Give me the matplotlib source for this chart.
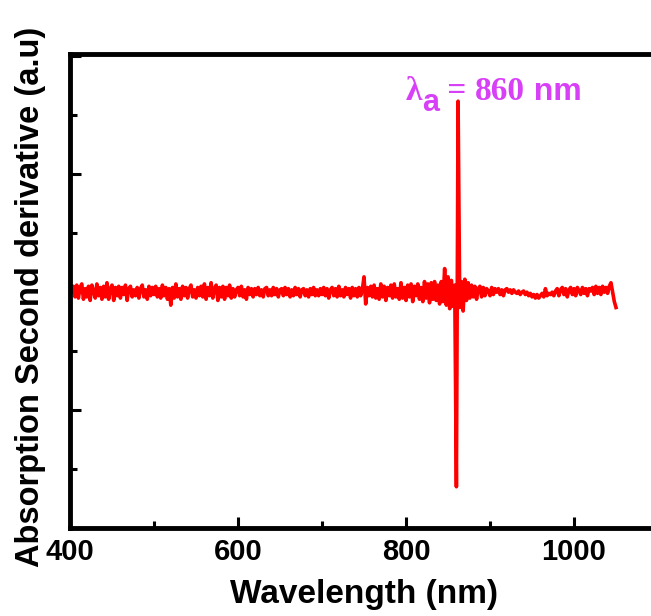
import numpy as np
import matplotlib
matplotlib.use("Agg")
import matplotlib.pyplot as plt
from matplotlib.ticker import MultipleLocator

# second-derivative spectrum, sampled every 2 nm from 400 to 1050 nm
wl_start, wl_stop, wl_step = 400, 1050, 2
deriv = [
    0.06, 0.03, 0.05, -0.04, 0.06, -0.05, 0.04, 0.07, -0.06, 0.03,     # 400
    -0.04, 0.05, -0.07, 0.06, 0.01, -0.05, 0.07, -0.03, 0.04, -0.06,   # 420
    0.05, -0.04, 0.08, -0.06, 0.03, 0.06, -0.07, 0.04, -0.03, 0.05,    # 440
    -0.05, 0.04, -0.02, 0.06, -0.07, 0.03, 0.05, -0.04, 0.02, -0.03,   # 460
    0.04, -0.05, 0.03, 0.06, -0.04, 0.02, -0.06, 0.05, -0.03, 0.04,    # 480
    -0.02, 0.05, -0.04, 0.03, -0.05, 0.06, -0.03, 0.04, -0.06, 0.03,   # 500
    -0.11, 0.04, -0.05, 0.07, -0.04, 0.03, -0.06, 0.05, -0.03, 0.04,   # 520
    -0.05, 0.03, 0.06, -0.04, 0.02, -0.05, 0.04, -0.03, 0.05, -0.04,   # 540
    0.07, -0.06, 0.04, -0.03, 0.08, -0.05, 0.03, 0.06, -0.07, 0.04,    # 560
    -0.04, 0.05, -0.06, 0.04, -0.03, 0.06, -0.05, 0.03, -0.04, 0.02,   # 580
    0.04, -0.03, 0.05, -0.04, 0.02, -0.06, 0.04, -0.02, 0.03, -0.04,   # 600
    0.03, -0.02, 0.04, -0.03, 0.02, -0.04, 0.03, 0.04, -0.03, 0.02,    # 620
    -0.03, 0.04, -0.02, 0.03, -0.04, 0.02, 0.03, -0.03, 0.04, -0.02,   # 640
    0.03, -0.04, 0.02, -0.03, 0.04, -0.02, 0.03, -0.04, 0.02, 0.03,    # 660
    -0.03, 0.02, -0.04, 0.03, -0.02, 0.04, -0.03, 0.02, -0.03, 0.03,   # 680
    -0.02, 0.04, -0.03, 0.03, -0.05, 0.02, 0.04, -0.03, 0.03, -0.04,   # 700
    0.05, -0.03, 0.02, -0.04, 0.04, -0.02, 0.03, -0.05, 0.04, -0.03,   # 720
    0.03, -0.04, 0.04, -0.03, 0.02, 0.13, -0.10, 0.04, -0.03, 0.05,    # 740
    -0.04, 0.06, -0.05, 0.03, -0.06, 0.07, -0.04, 0.05, -0.07, 0.04,   # 760
    -0.03, 0.06, -0.05, 0.07, -0.04, 0.03, -0.06, 0.08, -0.05, 0.04,   # 780
    -0.07, 0.06, -0.04, 0.07, -0.08, 0.05, -0.03, 0.07, -0.06, 0.04,   # 800
    -0.08, 0.09, -0.05, 0.07, -0.09, 0.08, -0.06, 0.09, -0.07, 0.06,   # 820
    -0.10, 0.09, -0.08, 0.20, -0.11, 0.13, -0.14, 0.10, -0.12, 0.06,   # 840
    -1.65, 1.62, -0.13, 0.09, -0.16, 0.11, -0.07, 0.08, -0.05, 0.06,   # 860
    -0.04, 0.05, -0.06, 0.03, 0.05, -0.04, 0.04, -0.03, 0.03, 0.01,    # 880
    -0.03, 0.04, -0.02, 0.03, 0.00, 0.03, -0.02, 0.02, -0.03, 0.02,    # 900
    0.03, 0.00, 0.02, -0.01, 0.02, 0.00, -0.01, 0.01, -0.02, 0.00,     # 920
    0.01, -0.02, 0.00, -0.03, -0.01, -0.04, -0.02, -0.05, -0.02, -0.05,   # 940
    -0.03, -0.01, -0.04, 0.03, -0.03, -0.01, -0.02, 0.00, -0.03, 0.01,    # 960
    0.03, -0.03, 0.02, 0.04, -0.02, 0.03, -0.04, 0.02, 0.04, -0.02,    # 980
    0.03, -0.03, 0.04, 0.01, -0.02, 0.04, -0.01, 0.03, -0.03, 0.03,    # 1000
    0.01, 0.04, -0.02, 0.05, -0.01, 0.04, -0.02, 0.05, 0.00, 0.04,     # 1020
    -0.01, 0.05, 0.08, 0.00, -0.08, -0.13,                             # 1040
]
wavelength = np.arange(wl_start, wl_stop + 1, wl_step)

x_ticks = [400, 600, 800, 1000]
peak_label = "860"

label_color = "#d840f8"

fig = plt.figure(figsize=(6.51, 6.16), dpi=100)
ax = fig.add_axes([70 / 651, 88 / 616, 588 / 651, 474 / 616])

ax.plot(wavelength, deriv, color="red", lw=2.6)

ax.set_xlim(400, 1100)
ax.set_ylim(-2.0, 2.02)
ax.set_xticks(x_ticks)
ax.xaxis.set_minor_locator(MultipleLocator(100))
ax.yaxis.set_major_locator(MultipleLocator(1))
ax.yaxis.set_minor_locator(MultipleLocator(0.5))
ax.set_yticklabels([])

for s in ax.spines.values():
    s.set_linewidth(3.5)

ax.tick_params(which="both", direction="in", width=2.2, top=False, right=False)
ax.tick_params(which="major", length=8)
ax.tick_params(which="minor", length=5)
ax.tick_params(axis="x", pad=7)
for lab in ax.get_xticklabels():
    lab.set_fontfamily("Liberation Sans")
    lab.set_fontweight("bold")
    lab.set_fontsize(21)

fig.text(364 / 651, 1 - 594 / 616, "Wavelength (nm)", ha="center", va="center",
         fontsize=24, fontweight="bold", family="Liberation Sans")
fig.text(31 / 651, 1 - 297 / 616, "Absorption Second derivative (a.u)", ha="center",
         va="center", rotation=90, fontsize=23.5, fontweight="bold", family="Liberation Sans")

# peak label built from pieces: serif lambda, bold sans subscript, serif number, bold sans unit
fig.canvas.draw()
renderer = fig.canvas.get_renderer()
inv = fig.transFigure.inverted()
x0 = 406 / 651
base = 1 - 100 / 616
pieces = [
    ("λ", "Liberation Serif", "bold", 24, 0.0),
    ("a", "Liberation Sans", "bold", 22, -0.018),
    (" = ", "Liberation Serif", "bold", 24, 0.0),
    (peak_label, "Liberation Serif", "bold", 24, 0.0),
    (" nm", "Liberation Sans", "bold", 23, 0.0),
]
for txt, fam, wt, fs, dy in pieces:
    t = fig.text(x0, base + dy, txt, family=fam, fontweight=wt, fontsize=fs,
                 color=label_color, ha="left", va="baseline")
    bb = t.get_window_extent(renderer)
    x0 = inv.transform((bb.x1, bb.y1))[0]

fig.savefig("out.png", dpi=100)
